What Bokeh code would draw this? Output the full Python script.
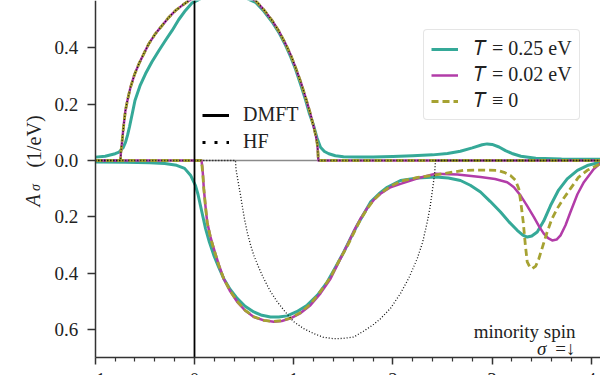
import numpy as np
from bokeh.plotting import figure
from bokeh.models import (Range1d, FixedTicker, CustomJSTickFormatter, Label, LinearAxis,
                          Legend, LegendItem, ColumnDataSource)
from bokeh.embed import file_html
from bokeh.resources import INLINE

# ---------------- data ----------------
# majority spin (plotted upward): HF, T=0.02 and T=0 coincide
x_band = [-1.0, -0.75, -0.746, -0.742, -0.729, -0.714, -0.696, -0.672, -0.645, -0.605, -0.561,
          -0.51, -0.46, -0.395, -0.325, -0.26, -0.19, -0.12, -0.057, 0.05, 0.17, 0.28, 0.39,
          0.51, 0.615, 0.70, 0.783, 0.85, 0.917, 0.97, 1.018, 1.07, 1.119, 1.165, 1.203,
          1.225, 1.237, 1.245, 1.247, 1.25, 4.09]
a_band = [0, 0, 0.0, 0.03, 0.071, 0.125, 0.178, 0.22, 0.26, 0.305, 0.343,
          0.38, 0.415, 0.45, 0.48, 0.508, 0.533, 0.552, 0.568, 0.585, 0.595, 0.598, 0.595,
          0.585, 0.568, 0.535, 0.497, 0.46, 0.415, 0.375, 0.331, 0.28, 0.225, 0.17, 0.118,
          0.085, 0.06, 0.025, 0.008, 0, 0]

x_t25_up = [-1.0, -0.9, -0.8, -0.76, -0.72, -0.695, -0.675, -0.655, -0.628, -0.60, -0.55,
            -0.494, -0.43, -0.36, -0.29, -0.225, -0.16, -0.091, -0.023, 0.08, 0.18, 0.28,
            0.38, 0.5, 0.615, 0.70, 0.783, 0.85, 0.917, 0.97, 1.018, 1.07, 1.12, 1.16, 1.2,
            1.235, 1.27, 1.31, 1.354, 1.42, 1.502, 1.65, 1.8, 2.0, 2.2, 2.4, 2.55, 2.68, 2.8,
            2.9, 2.95, 3.0, 3.07, 3.135, 3.2, 3.29, 3.44, 3.7, 4.09]
a_t25_up = [0.012, 0.015, 0.024, 0.03, 0.045, 0.065, 0.09, 0.12, 0.165, 0.213, 0.265,
            0.308, 0.35, 0.39, 0.428, 0.462, 0.5, 0.533, 0.56, 0.578, 0.588, 0.59,
            0.588, 0.58, 0.562, 0.53, 0.492, 0.455, 0.41, 0.368, 0.325, 0.27, 0.215, 0.165, 0.125,
            0.08, 0.047, 0.032, 0.024, 0.017, 0.013, 0.012, 0.012, 0.014, 0.017, 0.02, 0.025, 0.033, 0.045,
            0.056, 0.059, 0.057, 0.048, 0.035, 0.025, 0.015, 0.008, 0.005, 0.004]

# minority spin (plotted downward, labelled with absolute values)
x_t25_lo = [-1.0, -0.7, -0.45, -0.3, -0.18, -0.1, -0.04, 0.01, 0.035, 0.06, 0.085, 0.111,
            0.15, 0.195, 0.245, 0.295, 0.36, 0.43, 0.51, 0.598, 0.68, 0.766, 0.85, 0.934,
            1.03, 1.136, 1.24, 1.338, 1.42, 1.505, 1.575, 1.64, 1.71, 1.774, 1.86, 1.943,
            2.077, 2.25, 2.429, 2.56, 2.681, 2.78, 2.883, 2.98, 3.085, 3.17, 3.253, 3.31,
            3.354, 3.40, 3.455, 3.52, 3.589, 3.67, 3.757, 3.86, 3.959, 4.09]
a_t25_lo = [0.005, 0.006, 0.008, 0.011, 0.017, 0.028, 0.052, 0.089, 0.12, 0.16, 0.2, 0.241,
            0.29, 0.337, 0.38, 0.42, 0.458, 0.49, 0.518, 0.538, 0.55, 0.556, 0.556, 0.552,
            0.537, 0.514, 0.478, 0.432, 0.38, 0.325, 0.275, 0.23, 0.187, 0.148, 0.118, 0.095,
            0.071, 0.062, 0.059, 0.062, 0.071, 0.088, 0.112, 0.145, 0.183, 0.218, 0.248, 0.265,
            0.272, 0.268, 0.254, 0.215, 0.16, 0.105, 0.065, 0.035, 0.018, 0.006]

x_t02_lo = [-1.0, 0.07, 0.078, 0.085, 0.094, 0.11, 0.128, 0.16, 0.195, 0.245, 0.295, 0.36,
            0.43, 0.51, 0.598, 0.70, 0.799, 0.88, 0.968, 1.07, 1.169, 1.27, 1.371, 1.455,
            1.539, 1.605, 1.673, 1.74, 1.807, 1.875, 1.976, 2.077, 2.25, 2.429, 2.65, 2.883,
            3.03, 3.152, 3.22, 3.286, 3.355, 3.42, 3.475, 3.521, 3.565, 3.606, 3.65, 3.69,
            3.74, 3.79, 3.86, 3.925, 4.025, 4.09]
a_t02_lo = [0, 0, 0.02, 0.05, 0.1, 0.16, 0.219, 0.27, 0.313, 0.37, 0.42, 0.465,
            0.502, 0.533, 0.556, 0.568, 0.573, 0.57, 0.561, 0.542, 0.514, 0.472, 0.42, 0.36,
            0.301, 0.252, 0.207, 0.17, 0.14, 0.118, 0.095, 0.083, 0.063, 0.047, 0.05, 0.059,
            0.066, 0.077, 0.095, 0.124, 0.162, 0.2, 0.235, 0.26, 0.276, 0.284, 0.281, 0.266,
            0.23, 0.183, 0.12, 0.077, 0.03, 0.01]

x_t0_lo = [-1.0, 0.068, 0.076, 0.084, 0.094, 0.11, 0.128, 0.16, 0.195, 0.245, 0.295, 0.36,
           0.43, 0.51, 0.598, 0.70, 0.799, 0.88, 0.968, 1.07, 1.169, 1.27, 1.371, 1.455,
           1.539, 1.605, 1.673, 1.74, 1.807, 1.875, 1.976, 2.077, 2.25, 2.429, 2.715, 2.9,
           3.051, 3.12, 3.185, 3.235, 3.269, 3.29, 3.314, 3.335, 3.354, 3.38, 3.404, 3.44,
           3.471, 3.51, 3.555, 3.60, 3.656, 3.72, 3.79, 3.87, 3.959, 4.09]
a_t0_lo = [0, 0, 0.02, 0.05, 0.1, 0.16, 0.22, 0.272, 0.315, 0.372, 0.42, 0.463,
           0.5, 0.532, 0.555, 0.568, 0.572, 0.569, 0.56, 0.54, 0.51, 0.465, 0.415, 0.358,
           0.305, 0.258, 0.21, 0.172, 0.14, 0.117, 0.092, 0.074, 0.06, 0.051, 0.035, 0.034,
           0.035, 0.042, 0.053, 0.07, 0.1, 0.15, 0.219, 0.3, 0.36, 0.378, 0.384, 0.375,
           0.349, 0.305, 0.254, 0.21, 0.171, 0.135, 0.1, 0.06, 0.035, 0.012]

x_hf_lo = [-1.0, 0.413, 0.418, 0.43, 0.447, 0.465, 0.481, 0.505, 0.531, 0.565, 0.598, 0.65,
           0.699, 0.76, 0.834, 0.92, 1.001, 1.1, 1.203, 1.3, 1.404, 1.5, 1.606, 1.71, 1.807,
           1.875, 1.976, 2.077, 2.16, 2.245, 2.30, 2.346, 2.375, 2.396, 2.412, 2.422, 2.429, 4.09]
a_hf_lo = [0, 0, 0.03, 0.055, 0.09, 0.125, 0.16, 0.21, 0.254, 0.3, 0.337, 0.382,
           0.42, 0.462, 0.502, 0.54, 0.573, 0.597, 0.615, 0.628, 0.633, 0.632, 0.627, 0.605, 0.582,
           0.562, 0.525, 0.472, 0.418, 0.349, 0.29, 0.219, 0.165, 0.112, 0.07, 0.04, 0, 0]

# axes limits of the (cropped) panel, ticks and texts
x_lim = [-1.0, 4.093]
y_lim = [-0.6998, 0.5684]
x_major_ticks = [-1, 0, 1, 2, 3, 4]
x_minor_ticks = [round(-1 + 0.2 * i, 1) for i in range(26) if i % 5 != 0]
y_ticks = [-0.6, -0.4, -0.2, 0.0, 0.2, 0.4]

legend_T = ["𝑇 = 0.25 eV", "𝑇 = 0.02 eV", "𝑇 ≡ 0"]
legend_method = ["DMFT", "HF"]

TEAL = "#35a998"
MAGENTA = "#b23ca8"
OLIVE = "#a6a232"
SERIF = "Liberation Serif"
TXT = "#222222"
SPINE = "#333333"

# ---------------- figure: frame = whole canvas, axes at fixed locations ----------------
p = figure(width=600, height=375,
           x_range=Range1d(-1.9556, 4.0927), y_range=Range1d(-0.7638, 0.5684),
           x_axis_location=None, y_axis_location=None,
           output_backend="svg", toolbar_location=None,
           min_border_left=0, min_border_right=0, min_border_top=0, min_border_bottom=0)
p.outline_line_color = None
p.grid.visible = False

yax = LinearAxis(fixed_location=x_lim[0], bounds=(y_lim[0], y_lim[1]),
                 ticker=FixedTicker(ticks=y_ticks, minor_ticks=[]),
                 formatter=CustomJSTickFormatter(code="return Math.abs(tick).toFixed(1);"))
xax = LinearAxis(fixed_location=y_lim[0], bounds=(x_lim[0], x_lim[1]),
                 ticker=FixedTicker(ticks=x_major_ticks, minor_ticks=x_minor_ticks),
                 formatter=CustomJSTickFormatter(
                     code="return tick < 0 ? '\\u2212' + Math.abs(tick).toFixed(0) : tick.toFixed(0);"))
for ax in (xax, yax):
    ax.axis_line_color = SPINE
    ax.axis_line_width = 1.5
    ax.major_tick_line_color = SPINE
    ax.major_tick_line_width = 1.5
    ax.minor_tick_line_color = SPINE
    ax.minor_tick_line_width = 1.2
    ax.major_tick_in = 0
    ax.minor_tick_in = 0
    ax.major_label_text_font = SERIF
    ax.major_label_text_font_size = "19px"
    ax.major_label_text_color = TXT
xax.major_tick_out = 7
xax.minor_tick_out = 4
xax.major_label_standoff = 9
yax.major_tick_out = 8
yax.minor_tick_out = 0
yax.major_label_standoff = 9
p.add_layout(yax, "left")
p.add_layout(xax, "below")

# zero line (gray) across the panel
p.line(x=x_lim, y=[0, 0], line_color="#8a8a8a", line_width=1.5)


def draw(x, a, sign, **kw):
    src = ColumnDataSource(dict(x=x, y=[sign * v for v in a]))
    return p.line("x", "y", source=src, line_join="round", **kw)


r_teal = draw(x_t25_up, a_t25_up, 1, line_color=TEAL, line_width=3)
draw(x_t25_lo, a_t25_lo, -1, line_color=TEAL, line_width=3)
r_mag = draw(x_band, a_band, 1, line_color=MAGENTA, line_width=2.5)
draw(x_t02_lo, a_t02_lo, -1, line_color=MAGENTA, line_width=2.5)
r_oli = draw(x_band, a_band, 1, line_color=OLIVE, line_width=2.8, line_dash="7 4")
draw(x_t0_lo, a_t0_lo, -1, line_color=OLIVE, line_width=2.8, line_dash="7 4")
draw(x_band, a_band, 1, line_color="#111111", line_width=1.3, line_dash="1 2")
draw(x_hf_lo, a_hf_lo, -1, line_color="#111111", line_width=1.3, line_dash="1 2")

# Fermi level (E = 0)
p.line(x=[0, 0], y=y_lim, line_color="black", line_width=1.8)

# legend handles for the method legend (no visible data)
r_dmft = p.line(x=[np.nan], y=[np.nan], line_color="black", line_width=3)
r_hf = p.line(x=[np.nan], y=[np.nan], line_color="black", line_width=3, line_dash="3 9")

leg1 = Legend(items=[LegendItem(label=legend_T[0], renderers=[r_teal]),
                     LegendItem(label=legend_T[1], renderers=[r_mag]),
                     LegendItem(label=legend_T[2], renderers=[r_oli])],
              location=(423, 255))
leg1.label_text_font = SERIF
leg1.label_text_font_size = "20px"
leg1.label_text_color = TXT
leg1.glyph_width = 27
leg1.glyph_height = 20
leg1.label_height = 20
leg1.label_standoff = 16
leg1.spacing = 3
leg1.padding = 7
leg1.margin = 0
leg1.border_line_color = "#cccccc"
leg1.border_line_width = 1
leg1.background_fill_alpha = 0.8
try:
    leg1.border_radius = 4
except Exception:
    pass
p.add_layout(leg1)

leg2 = Legend(items=[LegendItem(label=legend_method[0], renderers=[r_dmft]),
                     LegendItem(label=legend_method[1], renderers=[r_hf])],
              location=(202, 222))
leg2.label_text_font = SERIF
leg2.label_text_font_size = "20px"
leg2.label_text_color = TXT
leg2.glyph_width = 27
leg2.glyph_height = 20
leg2.label_height = 20
leg2.label_standoff = 14
leg2.spacing = 4
leg2.padding = 7
leg2.margin = 0
leg2.border_line_color = None
leg2.background_fill_alpha = 0
p.add_layout(leg2)

# y-axis label  A_sigma (1/eV)
p.add_layout(Label(x=-1.623, y=-0.142, text="A", angle=np.pi / 2, text_align="center",
                   text_baseline="middle", text_font=SERIF, text_font_style="italic",
                   text_font_size="20px", text_color=TXT))
p.add_layout(Label(x=-1.600, y=-0.096, text="σ", angle=np.pi / 2, text_align="center",
                   text_baseline="middle", text_font=SERIF, text_font_style="italic",
                   text_font_size="14px", text_color=TXT))
p.add_layout(Label(x=-1.613, y=0.0675, text="(1/eV)", angle=np.pi / 2, text_align="center",
                   text_baseline="middle", text_font=SERIF, text_font_size="20px", text_color=TXT))

# panel annotation
p.add_layout(Label(x=3.841, y=-0.607, text="minority spin", text_align="right",
                   text_baseline="alphabetic", text_font=SERIF, text_font_size="19px", text_color=TXT))
p.add_layout(Label(x=3.548, y=-0.668, text="σ", text_align="right",
                   text_baseline="alphabetic", text_font=SERIF, text_font_style="italic",
                   text_font_size="19px", text_color=TXT))
p.add_layout(Label(x=3.841, y=-0.668, text="=↓", text_align="right",
                   text_baseline="alphabetic", text_font=SERIF, text_font_size="19px", text_color=TXT))

open("out.html", "w").write(file_html(p, INLINE))
